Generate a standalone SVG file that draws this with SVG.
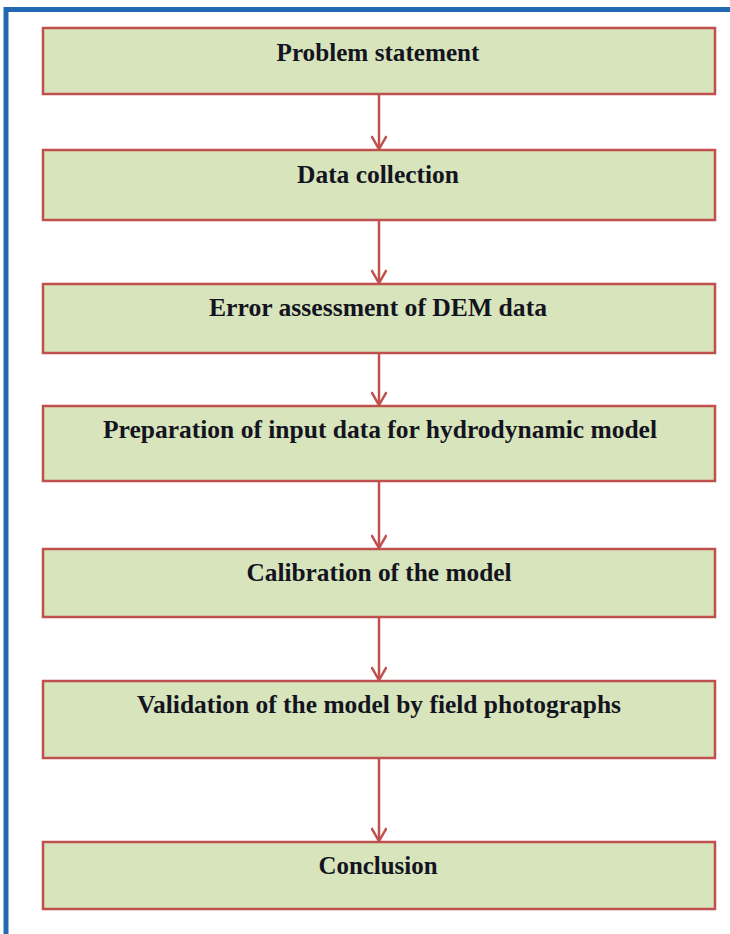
<svg xmlns="http://www.w3.org/2000/svg" width="730" height="934" viewBox="0 0 730 934">
<defs>
<style>
.box{fill:#D7E4BC;stroke:#C0504D;stroke-width:2.5}
.lbl{font-family:"Liberation Serif","Times New Roman",serif;font-weight:bold;font-size:25px;fill:#141420;text-anchor:middle}
.con{stroke:#C0504D;stroke-width:2.5;fill:none}
</style>
<marker id="arr" viewBox="0 0 16 16" refX="14" refY="8" markerWidth="16" markerHeight="16" markerUnits="userSpaceOnUse" orient="auto">
<path d="M1,0.5 L14,8 L1,15.5" fill="none" stroke="#C0504D" stroke-width="2.5"/>
</marker>
</defs>
<rect width="730" height="934" fill="#FFFFFF"/>
<path d="M6,934 V9.5 H730" fill="none" stroke="#2268B2" stroke-width="5"/>
<g id="connectors">
<line class="con" x1="379" y1="94" x2="379" y2="149" marker-end="url(#arr)"/>
<line class="con" x1="379" y1="220" x2="379" y2="283" marker-end="url(#arr)"/>
<line class="con" x1="379" y1="353" x2="379" y2="405" marker-end="url(#arr)"/>
<line class="con" x1="379" y1="481" x2="379" y2="548" marker-end="url(#arr)"/>
<line class="con" x1="379" y1="617" x2="379" y2="680" marker-end="url(#arr)"/>
<line class="con" x1="379" y1="758" x2="379" y2="841" marker-end="url(#arr)"/>
</g>
<g id="n1"><rect class="box" x="43" y="28" width="672" height="66"/><text class="lbl" x="378" y="61" textLength="203" lengthAdjust="spacingAndGlyphs">Problem statement</text></g>
<g id="n2"><rect class="box" x="43" y="150" width="672" height="70"/><text class="lbl" x="378" y="183" textLength="162" lengthAdjust="spacingAndGlyphs">Data collection</text></g>
<g id="n3"><rect class="box" x="43" y="284" width="672" height="69"/><text class="lbl" x="378" y="316" textLength="338" lengthAdjust="spacingAndGlyphs">Error assessment of DEM data</text></g>
<g id="n4"><rect class="box" x="43" y="406" width="672" height="75"/><text class="lbl" x="380" y="438" textLength="554" lengthAdjust="spacingAndGlyphs">Preparation of input data for hydrodynamic model</text></g>
<g id="n5"><rect class="box" x="43" y="549" width="672" height="68"/><text class="lbl" x="379" y="581" textLength="265" lengthAdjust="spacingAndGlyphs">Calibration of the model</text></g>
<g id="n6"><rect class="box" x="43" y="681" width="672" height="77"/><text class="lbl" x="379" y="713" textLength="484" lengthAdjust="spacingAndGlyphs">Validation of the model by field photographs</text></g>
<g id="n7"><rect class="box" x="43" y="842" width="672" height="67"/><text class="lbl" x="378" y="874" textLength="119" lengthAdjust="spacingAndGlyphs">Conclusion</text></g>
</svg>
